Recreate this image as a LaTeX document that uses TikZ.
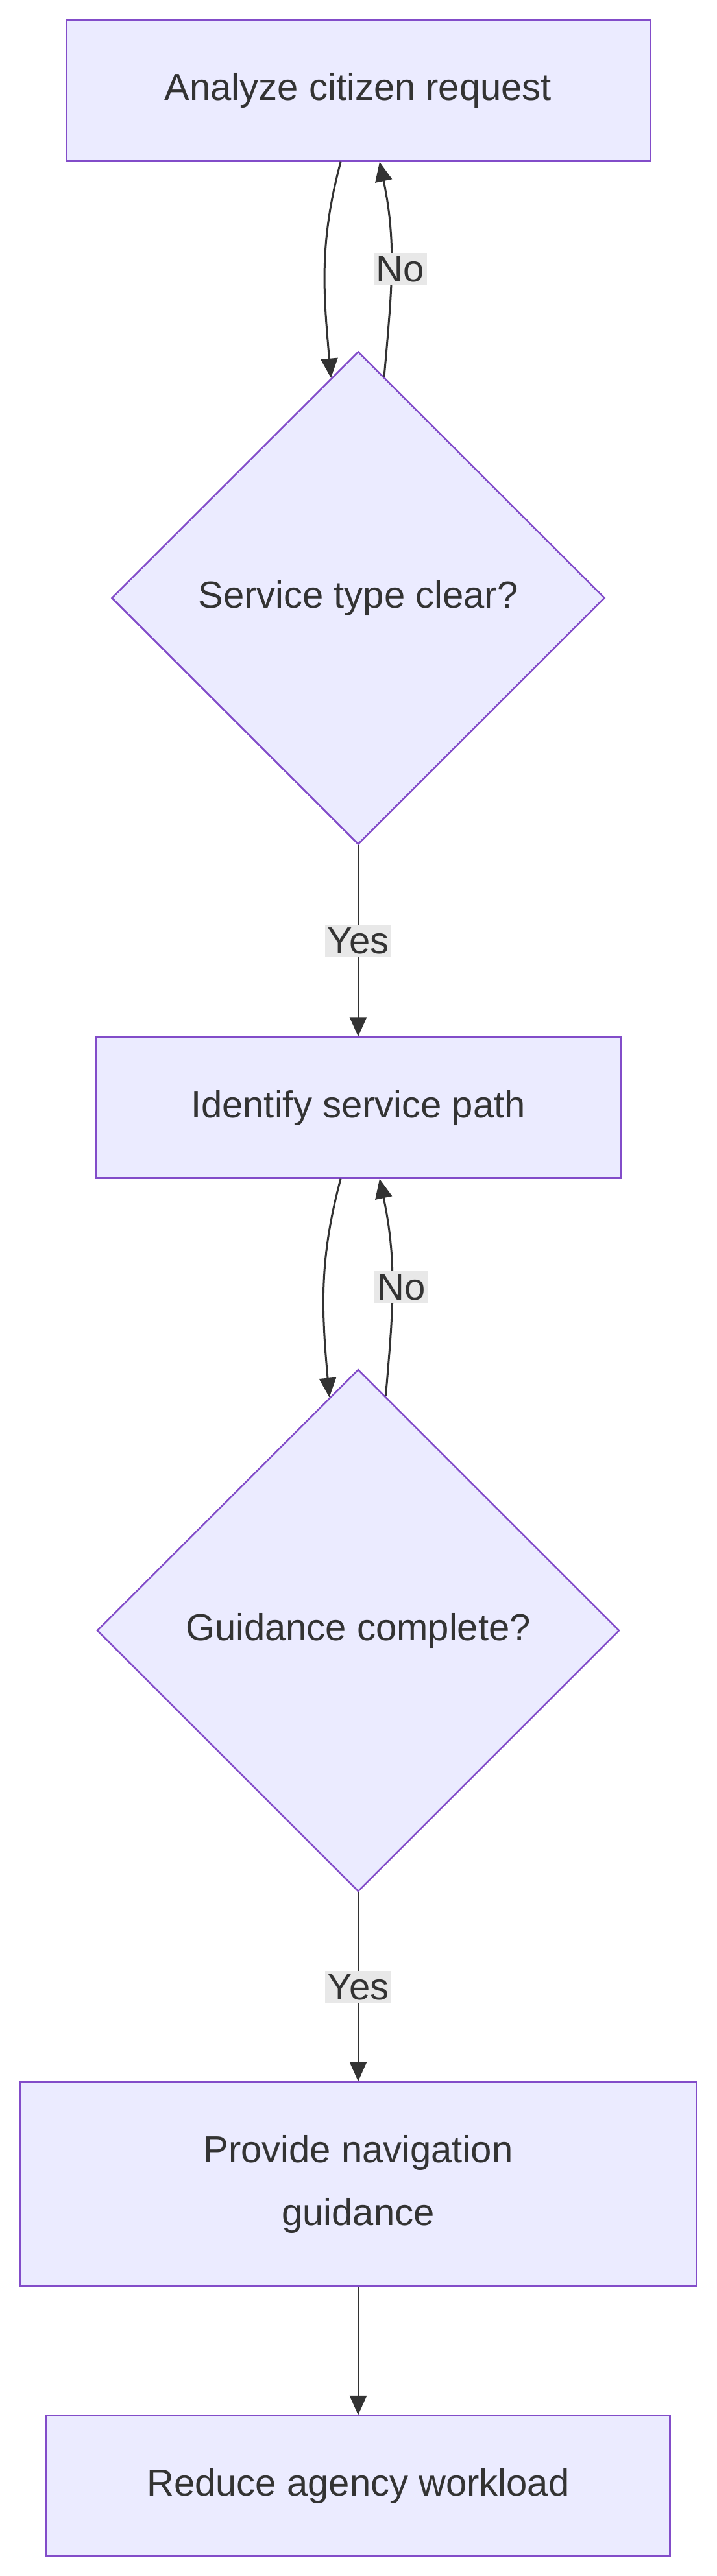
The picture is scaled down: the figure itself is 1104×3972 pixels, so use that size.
\documentclass[tikz,border=0pt]{standalone}
\usepackage{fontspec}
\setmainfont{Liberation Sans}
\usetikzlibrary{positioning, arrows.meta, shapes.geometric, calc}

\begin{document}
\begin{tikzpicture}[x=1pt, y=-1pt,
	task/.style={draw=violet!60!blue!70, fill=blue!8, line width=2.5pt, inner sep=0pt, font=\fontsize{58}{97}\selectfont, text=black!80, align=center},
	check/.style={task, diamond, shape aspect=1},
	arr/.style={-{Triangle[length=30pt, width=26pt]}, line width=3pt, draw=black!80},
	lbl/.style={fill=black!9, inner sep=4pt, font=\fontsize{58}{60}\selectfont, text=black!80}]
	% Frame
	\useasboundingbox (0, 0) rectangle (1104, 3972);
	
	% Tasks and checks
	\node[task, minimum width=900pt, minimum height=217pt] (analyze) at (552, 140) {Analyze citizen request};
	\node[check, minimum width=760pt, minimum height=760pt] (clear) at (552, 922) {Service type clear?};
	\node[task, minimum width=809pt, minimum height=217pt] (path) at (552, 1708) {Identify service path};
	\node[check, minimum width=805pt, minimum height=805pt] (complete) at (552, 2514) {Guidance complete?};
	\node[task, minimum width=1042pt, minimum height=315pt] (guide) at (552, 3368) {Provide navigation\\guidance};
	\node[task, minimum width=961pt, minimum height=216pt] (reduce) at (552, 3833) {Reduce agency workload};
	
	% Loop back on the first check
	\draw[arr] ([xshift=-27pt]analyze.south) to[out=-105, in=95] ($(clear.north)!0.11!(clear.west)$);
	\draw[arr] ($(clear.north)!0.105!(clear.east)$) to[out=85, in=-78]
		node[lbl, pos=0.5, xshift=14pt] {No} ([xshift=33pt]analyze.south);
	\draw[arr] (clear.south) -- node[lbl] {Yes} (path.north);
	
	% Loop back on the second check
	\draw[arr] ([xshift=-27pt]path.south) to[out=-105, in=95] ($(complete.north)!0.11!(complete.west)$);
	\draw[arr] ($(complete.north)!0.105!(complete.east)$) to[out=85, in=-78]
		node[lbl, pos=0.5, xshift=14pt] {No} ([xshift=33pt]path.south);
	\draw[arr] (complete.south) -- node[lbl] {Yes} (guide.north);
	\draw[arr] (guide.south) -- (reduce.north);
\end{tikzpicture}
\end{document}
